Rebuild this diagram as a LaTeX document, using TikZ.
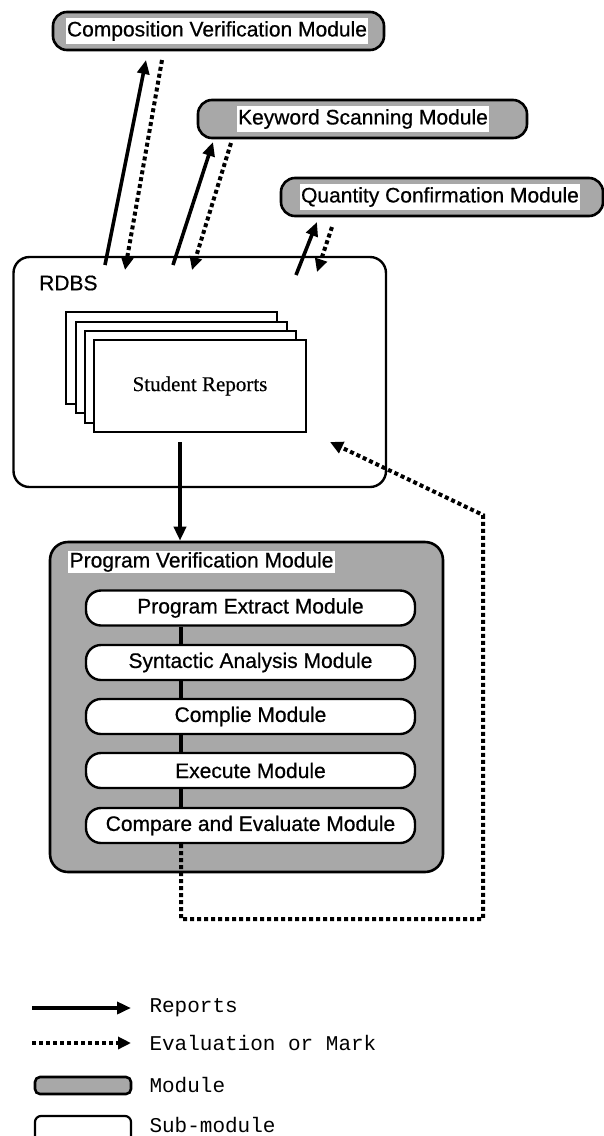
\documentclass[tikz,border=0pt]{standalone}
\usepackage{fontspec}
\setmainfont{Liberation Sans}[FakeBold=0.6]
\newfontfamily\serifF{Liberation Serif}[FakeBold=0.4]
\newfontfamily\monoF{Liberation Mono}
\usetikzlibrary{arrows.meta,calc}
\definecolor{modgray}{gray}{0.66}
\begin{document}
\begin{tikzpicture}[x=1pt,y=-1pt,
  module/.style={draw, line width=2.6pt, fill=modgray, rounded corners=14pt, inner sep=0pt},
  modtext/.style={fill=white, inner xsep=1.5pt, inner ysep=3pt, font=\fontsize{21}{24}\selectfont},
  submod/.style={draw, line width=2.4pt, fill=white, rounded corners=15pt, minimum width=329pt, minimum height=35pt, inner sep=0pt, font=\fontsize{21}{24}\selectfont},
  report/.style={line width=3.6pt, -{Triangle[length=14pt,width=12pt]}},
  evalarrow/.style={line width=4pt, dash pattern=on 4pt off 3pt, -{Triangle[length=13pt,width=12pt]}},
  link/.style={line width=3.6pt},
  page/.style={draw, line width=1.8pt, fill=white, inner sep=0pt},
  legtext/.style={anchor=west, font=\monoF\fontsize{21}{24}\selectfont}]
\useasboundingbox (0,0) rectangle (604,1136);

% top modules
\node[module, minimum width=331pt, minimum height=38pt] (comp) at (218.5,31) {};
\node[modtext] (compL) at (217,31) {Composition Verification Module};
\node[module, minimum width=329pt, minimum height=38pt] (kw) at (362.5,119) {};
\node[modtext] (kwL) at (363,119) {Keyword Scanning Module};
\node[module, minimum width=322pt, minimum height=38pt] (qc) at (442,197) {};
\node[modtext] (qcL) at (440,197) {Quantity Confirmation Module};

% RDBS
\node[draw, line width=2.4pt, rounded corners=16pt, minimum width=372.5pt, minimum height=230pt, inner sep=0pt] (rdbs) at (199.75,372) {};
\node[anchor=west, font=\fontsize{21}{24}\selectfont, inner sep=0pt] (rdbsL) at (39,283) {RDBS};

% stacked pages
\node[page, minimum width=211pt, minimum height=92pt] (p1) at (171.5,358) {};
\node[page, minimum width=211pt, minimum height=91pt] (p2) at (181.5,367.5) {};
\node[page, minimum width=211pt, minimum height=92pt] (p3) at (190.5,377) {};
\node[page, minimum width=212pt, minimum height=92pt, font=\serifF\fontsize{21}{24}\selectfont] (p4) at (200,386) {Student Reports};

% arrows between RDBS and top modules
\coordinate (a1s) at (105,265); \coordinate (a1e) at (146,60);
\coordinate (d1s) at (162,60);  \coordinate (d1e) at (125,270);
\coordinate (a2s) at (173,265); \coordinate (a2e) at (213,142);
\coordinate (d2s) at (231,143); \coordinate (d2e) at (192,270);
\coordinate (a3s) at (296,275); \coordinate (a3e) at (317,222);
\coordinate (d3s) at (332,227); \coordinate (d3e) at (317,272);
\draw[report] (a1s) -- (a1e);
\draw[evalarrow] (d1s) -- (d1e);
\draw[report] (a2s) -- (a2e);
\draw[evalarrow] (d2s) -- (d2e);
\draw[report] (a3s) -- (a3e);
\draw[evalarrow] (d3s) -- (d3e);

% program verification module
\node[module, rounded corners=18pt, minimum width=393pt, minimum height=330pt] (pvm) at (246.5,707) {};
\node[modtext, anchor=west, inner ysep=1pt] (pvmL) at (68,562) {Program Verification Module};

\coordinate (vx) at (181,0);
\coordinate (rtop) at (180,442);
\draw[report] (rtop) -- (rtop |- pvm.north);

\node[submod] (s1) at (250.5,608) {Program Extract Module};
\node[submod] (s2) at (250.5,662.5) {Syntactic Analysis Module};
\node[submod] (s3) at (250.5,716.5) {Complie Module};
\node[submod] (s4) at (250.5,770.5) {Execute Module};
\node[submod] (s5) at (250.5,825.5) {Compare and Evaluate Module};
\draw[link] (s1.south -| vx) -- (s2.north -| vx);
\draw[link] (s2.south -| vx) -- (s3.north -| vx);
\draw[link] (s3.south -| vx) -- (s4.north -| vx);
\draw[link] (s4.south -| vx) -- (s5.north -| vx);

% feedback
\coordinate (fb1) at (181,919);
\coordinate (fb2) at (483,919);
\coordinate (fb3) at (483,515);
\coordinate (fbtip) at (330,442);
\draw[evalarrow] (s5.south -| vx) -- (fb1) -- (fb2) -- (fb3) -- (fbtip);

% legend
\coordinate (l1s) at (32,1008); \coordinate (l1e) at (131,1008);
\draw[report] (l1s) -- (l1e);
\node[legtext] (l1t) at (146,1008) {Reports};
\coordinate (l2s) at (32,1043); \coordinate (l2e) at (131,1043);
\draw[evalarrow] (l2s) -- (l2e);
\node[legtext] (l2t) at (146,1043) {Evaluation or Mark};
\node[module, rounded corners=5pt, minimum width=96pt, minimum height=17pt] (lm) at (83,1085.5) {};
\node[legtext] (l3t) at (146,1085) {Module};
\node[draw, line width=2.2pt, rounded corners=6pt, minimum width=96pt, minimum height=30pt, inner sep=0pt] (ls) at (83,1131) {};
\node[legtext] (l4t) at (146,1125) {Sub-module};
\end{tikzpicture}
\end{document}
